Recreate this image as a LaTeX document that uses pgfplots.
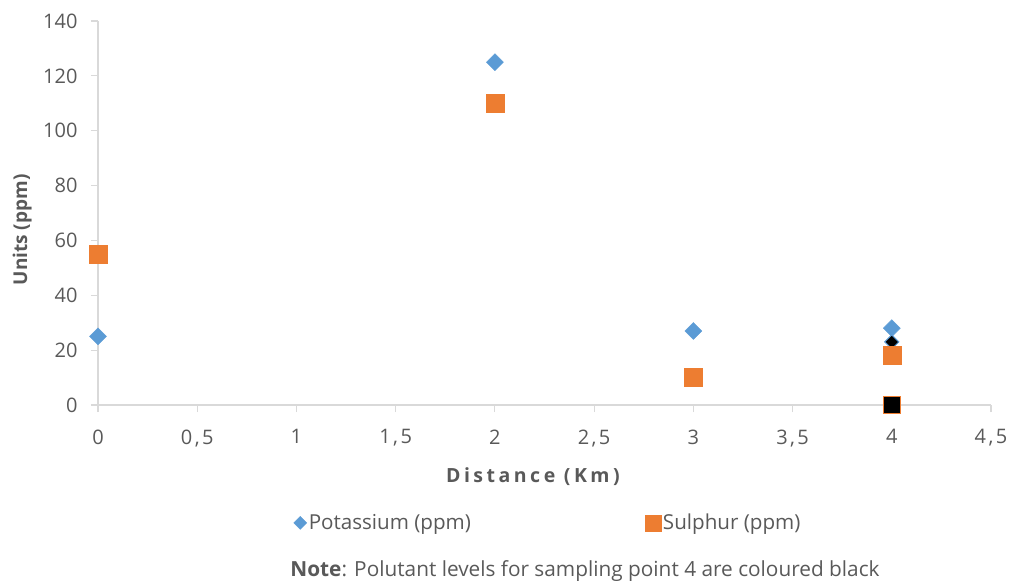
\documentclass[border=0pt]{standalone}
\usepackage{fontspec}
\setmainfont{Open Sans}
\newfontfamily\spaced[LetterSpace=12]{Open Sans}
\newfontfamily\spacedb[LetterSpace=18]{Open Sans}
\usepackage{pgfplots}
\pgfplotsset{compat=1.18}
\definecolor{kblue}{HTML}{5B9BD5}
\definecolor{sorange}{HTML}{ED7D31}
\definecolor{txt}{HTML}{595959}
\definecolor{axgray}{HTML}{D9D9D9}
\begin{document}
\begin{tikzpicture}
\begin{axis}[
 scale only axis, width=893pt, height=384pt,
 xmin=0, xmax=4.5, ymin=0, ymax=140,
 clip=false,
 axis lines=left, axis line style={-, axgray, line width=1.2pt},
 tick style={axgray, line width=1.2pt}, major tick length=7pt, tick align=outside,
 xtick={0,0.5,...,4.5}, ytick={0,20,...,140},
 xticklabels={0,{0,5},1,{1,5},2,{2,5},3,{3,5},4,{4,5}},
 /pgf/number format/assume math mode=true,
 xticklabel style={font=\spaced\fontsize{20}{24}\selectfont, text=txt, yshift=-14pt},
 yticklabel style={font=\fontsize{20}{24}\selectfont, text=txt, xshift=-10pt},
 xlabel={\textbf{Distance (Km)}},
 ylabel={\textbf{Units (ppm)}},
 xlabel style={font=\spacedb\fontsize{19.5}{23}\selectfont, text=txt, at={(axis description cs:0.489,-0.187)}, anchor=center},
 ylabel style={font=\fontsize{19}{23}\selectfont, text=txt, at={(axis description cs:-0.085,0.456)}, anchor=center},
 legend style={at={(0.504,-0.307)}, anchor=center, draw=none, font=\fontsize{20.6}{24}\selectfont, text=txt,
   /tikz/every even column/.append style={column sep=172pt}},
 legend columns=2, legend cell align=left,
]
\addlegendimage{only marks, mark=square*, mark size=4.6pt, mark options={rotate=45, fill=kblue, draw=kblue}}
\addlegendentry{Potassium (ppm)}
\addlegendimage{only marks, mark=square*, mark size=8pt, mark options={fill=sorange, draw=sorange}}
\addlegendentry{Sulphur (ppm)}
\addplot[forget plot, only marks, mark=square*, mark size=6pt, mark options={rotate=45, fill=kblue, draw=kblue}]
 coordinates {(0,25) (2,125) (3,27) (4,28)};
\addplot[forget plot, only marks, mark=square*, mark size=5pt, mark options={rotate=45, fill=black, draw=kblue, line width=1pt}]
 coordinates {(4,23)};
\addplot[forget plot, only marks, mark=square*, mark size=9pt, mark options={fill=sorange, draw=sorange}]
 coordinates {(0,55) (2,110) (3,10) (4,18)};
\addplot[forget plot, only marks, mark=square*, mark size=8.5pt, mark options={fill=black, draw=sorange, line width=1.5pt}]
 coordinates {(4,0)};
\end{axis}
\node[font=\fontsize{20.8}{24}\selectfont, text=txt] at (487pt,-166pt) {\textbf{Note}: Polutant levels for sampling point 4 are coloured black};
\pgfresetboundingbox
\path[use as bounding box] (-98pt,-178pt) rectangle (913pt,405pt);
\end{tikzpicture}
\end{document}
